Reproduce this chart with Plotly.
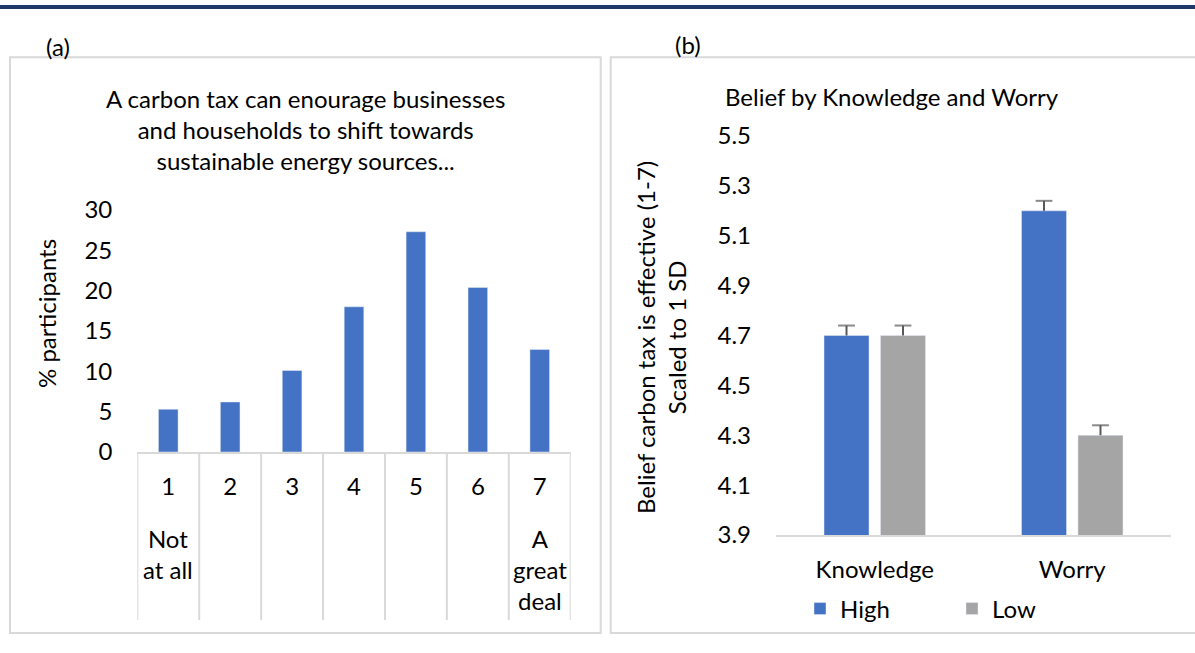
import plotly.graph_objects as go

# ---------------- data ----------------
likert_labels = ["1", "2", "3", "4", "5", "6", "7"]
pct_participants = [5.3, 6.2, 10.1, 18.0, 27.3, 20.4, 12.7]
likert_anchor_text = {"1": "Not<br>at all", "7": "A<br>great<br>deal"}

groups = ["Knowledge", "Worry"]
belief_high = [4.7, 5.2]
belief_low = [4.7, 4.3]
err_high = [0.04, 0.04]
err_low = [0.04, 0.04]

title_a = "A carbon tax can enourage businesses<br>and households to shift towards<br>sustainable energy sources..."
title_b = "Belief by Knowledge and Worry"
ytitle_a = "% participants"
ytitle_b = "Belief carbon tax is effective (1-7)<br>Scaled to 1 SD"

# ---------------- styling ----------------
W, H = 1195, 653
FONT = "Lato"
FS = 24
BLUE = "#4472C4"
GREY = "#A5A5A5"
BORDER = "#D9D9D9"
TXT = "#000000"
ERR = "#595959"
GAP = 0.428


def px(x):
    return x / W


def py(y):
    return 1 - y / H


fig = go.Figure()

fig.add_trace(go.Bar(
    x=likert_labels, y=pct_participants, xaxis="x", yaxis="y",
    width=0.317, marker=dict(color=BLUE), showlegend=False,
))

series = [("High", belief_high, err_high, BLUE), ("Low", belief_low, err_low, GREY)]
for name, vals, errs, col in series:
    fig.add_trace(go.Bar(
        x=groups, y=vals, name=name, xaxis="x2", yaxis="y2",
        marker=dict(color=col), offsetgroup=name,
    ))
for name, vals, errs, col in series:
    # upper-only error whiskers (stem from bar top up to value + error, with a cap)
    wx, wy, wsize = [], [], []
    for g, v, e in zip(groups, vals, errs):
        wx += [g, g, None]
        wy += [v, v + e, None]
        wsize += [0, 12, 0]
    fig.add_trace(go.Scatter(
        x=wx, y=wy, xaxis="x2", yaxis="y2", mode="lines+markers",
        line=dict(color=ERR, width=2), connectgaps=False,
        marker=dict(symbol="line-ew", size=wsize, color=ERR,
                    line=dict(color=ERR, width=2)),
        showlegend=False, offsetgroup=name, hoverinfo="skip",
    ))

axis_font = dict(family=FONT, size=FS, color=TXT)

shapes = []
# top navy rule
shapes.append(dict(type="rect", xref="paper", yref="paper", x0=0, x1=1,
                   y0=py(9), y1=py(5), fillcolor="#203864", line=dict(width=0), layer="below"))
# panel borders
shapes.append(dict(type="rect", xref="paper", yref="paper", x0=px(10), x1=px(600.7),
                   y0=py(633), y1=py(57.3), line=dict(color=BORDER, width=2), layer="below"))
shapes.append(dict(type="rect", xref="paper", yref="paper", x0=px(610.7), x1=px(1205),
                   y0=py(633), y1=py(57.3), line=dict(color=BORDER, width=2), layer="below"))
# category table lines under panel (a)
for i in range(len(likert_labels) + 1):
    shapes.append(dict(type="line", xref="x", yref="paper", x0=i - 0.5, x1=i - 0.5,
                       y0=py(620), y1=py(452), line=dict(color=BORDER, width=2)))

annotations = [
    dict(text="(a)", x=px(58), y=py(46), xref="paper", yref="paper", showarrow=False,
         font=axis_font, xanchor="center", yanchor="middle"),
    dict(text="(b)", x=px(688), y=py(44), xref="paper", yref="paper", showarrow=False,
         font=axis_font, xanchor="center", yanchor="middle"),
    dict(text=title_a, x=px(305.3), y=py(129), xref="paper", yref="paper", showarrow=False,
         font=axis_font, xanchor="center", yanchor="middle", align="center"),
    dict(text=title_b, x=px(891.7), y=py(96), xref="paper", yref="paper", showarrow=False,
         font=axis_font, xanchor="center", yanchor="middle"),
    dict(text=ytitle_a, x=px(46), y=py(314), xref="paper", yref="paper", showarrow=False,
         font=axis_font, textangle=-90, xanchor="center", yanchor="middle"),
    dict(text=ytitle_b, x=px(661), y=py(338), xref="paper", yref="paper", showarrow=False,
         font=axis_font, textangle=-90, xanchor="center", yanchor="middle", align="center"),
]
for cat, txt in likert_anchor_text.items():
    annotations.append(dict(text=txt, x=likert_labels.index(cat), y=py(538 - 16),
                            xref="x", yref="paper", showarrow=False, font=axis_font,
                            xanchor="center", yanchor="top", align="center"))

fig.update_layout(
    width=W, height=H, margin=dict(l=0, r=0, t=0, b=0, autoexpand=False),
    paper_bgcolor="white", plot_bgcolor="rgba(0,0,0,0)",
    font=axis_font,
    barmode="group", bargap=GAP, bargroupgap=0.203,
    scattermode="group", scattergap=GAP,
    xaxis=dict(domain=[px(137.3), px(570.7)], anchor="y", type="category",
               range=[-0.5, 6.5], showline=True, linecolor=BORDER, linewidth=2,
               showgrid=False, zeroline=False, ticks="", ticklabelstandoff=12,
               tickfont=axis_font),
    yaxis=dict(domain=[py(452), py(210)], anchor="x", range=[0, 30],
               tickvals=[0, 5, 10, 15, 20, 25, 30],
               showline=False, showgrid=False, zeroline=False, ticks="",
               ticklabelstandoff=24, tickfont=axis_font),
    xaxis2=dict(domain=[px(776), px(1171)], anchor="y2", type="category",
                categoryarray=groups, categoryorder="array",
                range=[-0.5, 1.5], showline=True, linecolor=BORDER, linewidth=2,
                showgrid=False, zeroline=False, ticks="", ticklabelstandoff=12,
                tickfont=axis_font),
    yaxis2=dict(domain=[py(535), py(136)], anchor="x2", range=[3.9, 5.5],
                tickvals=[3.9, 4.1, 4.3, 4.5, 4.7, 4.9, 5.1, 5.3, 5.5],
                ticktext=["3.9", "4.1", "4.3", "4.5", "4.7", "4.9", "5.1", "5.3", "5.5"],
                showline=False, showgrid=False, zeroline=False, ticks="",
                ticklabelstandoff=24, tickfont=axis_font),
    legend=dict(orientation="h", x=px(800), y=py(609), xanchor="left", yanchor="middle",
                font=axis_font, bgcolor="rgba(0,0,0,0)", entrywidth=107,
                entrywidthmode="pixels", itemclick=False, itemdoubleclick=False),
    shapes=shapes, annotations=annotations,
)

fig.write_html("out.html", config={"displayModeBar": False},
               post_script="document.body.style.margin='0';")
